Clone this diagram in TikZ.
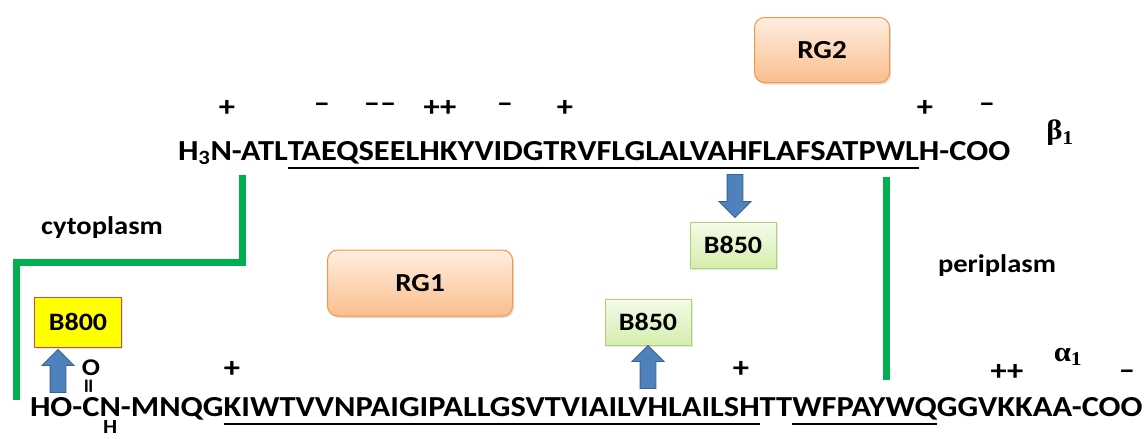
\documentclass[tikz,border=0pt]{standalone}
\usepackage{fontspec}
\setmainfont[FakeStretch=1.12]{Carlito}
\newfontfamily\greekfont[FakeStretch=1.1]{Liberation Serif}
\usetikzlibrary{positioning,shapes.arrows,shadows}

\definecolor{membrane}{RGB}{0,176,80}
\definecolor{arrowblue}{RGB}{79,129,189}
\definecolor{rgborder}{RGB}{247,150,70}
\definecolor{rgtop}{RGB}{255,238,226}
\definecolor{rgbottom}{RGB}{250,190,140}
\definecolor{bchltop}{RGB}{244,251,234}
\definecolor{bchlbottom}{RGB}{212,238,172}
\definecolor{bchlborder}{RGB}{176,208,120}
\definecolor{bchlred}{RGB}{192,80,77}

\tikzset{
  seq/.style={font=\fontsize{29}{32}\selectfont\bfseries, inner sep=0pt, outer sep=0pt,
    anchor=base west},
  sequl/.style={seq, text depth=8pt},
  charge/.style={font=\fontsize{29}{32}\selectfont\bfseries, inner sep=0pt},
  uline/.style={line width=1.4pt},
  membrane line/.style={draw=membrane, line width=7pt},
  region/.style={font=\fontsize{25.5}{28}\selectfont\bfseries},
  rgbox/.style={rounded corners=10pt, draw=rgborder, line width=1pt,
    top color=rgtop, bottom color=rgbottom,
    drop shadow={opacity=.25, shadow xshift=1.5pt, shadow yshift=-2pt},
    font=\fontsize{26}{28}\selectfont\bfseries},
  bchl/.style={draw=bchlborder, line width=1pt, top color=bchltop, bottom color=bchlbottom,
    drop shadow={opacity=.2, shadow xshift=1.5pt, shadow yshift=-2pt},
    font=\fontsize{25}{28}\selectfont\bfseries,
    minimum width=86pt, minimum height=46pt},
  blockarrow/.style={single arrow, fill=arrowblue, draw=arrowblue!75!black, line width=.8pt,
    inner sep=7.5pt, single arrow head extend=8pt, minimum height=43pt, minimum width=31pt},
  subunit/.style={font=\greekfont\fontsize{28}{30}\selectfont\bfseries},
}

\begin{document}
\begin{tikzpicture}[x=1pt, y=-1pt]
  \useasboundingbox (0,0) rectangle (1146,439);

  % beta chain
  \node[seq] (b0) at (178,160) {H\textsubscript{3}N-ATL};
  \node[sequl] (b1) at (b0.base east) {TAEQSEELHKYVIDGTRVFLGLALVAHFLAFSATPWL};
  \node[seq] (b2) at (b1.base east) {H-COO};
  \draw[uline] (b1.south west) -- (b1.south east);
  \node[subunit] (beta) at (1060,133) {β\textsubscript{1}};

  \foreach \x/\c in {227/+, 322/\textendash, 380/\textendash\textendash, 440/++,
                     505/\textendash, 565/+, 925/+, 987/\textendash}
    \node[charge] at (\x,108) {\c};

  % alpha chain
  \node[seq] (a0) at (30,416) {HO-};
  \node[seq] (a1) at (a0.base east) {C};
  \node[seq] (a2) at (a1.base east) {N};
  \node[seq] (a3) at (a2.base east) {-MNQG};
  \node[sequl] (a4) at (a3.base east) {KIWTVVNPAIGIPALLGSVTVIAILVHLAILSH};
  \node[seq] (a5) at (a4.base east) {TT};
  \node[sequl] (a6) at (a5.base east) {WFPAYWQ};
  \node[seq] (a7) at (a6.base east) {GGVKKAA-COO};
  \draw[uline] (a4.south west) -- (a4.south east);
  \draw[uline] (a6.south west) -- (a6.south east);
  \node[charge, font=\fontsize{24}{26}\selectfont\bfseries] (oxy) at (a1.north |- 0,368) {O};
  \node[charge, rotate=90, font=\fontsize{26}{28}\selectfont\bfseries] (dbl) at (a1.north |- 0,386) {=};
  \node[charge, anchor=base, font=\fontsize{20}{22}\selectfont\bfseries] (hyd) at (a2.north |- 0,433) {H};
  \node[subunit] (alpha) at (1068,357) {α\textsubscript{1}};

  \foreach \x/\y/\c in {232/369/+, 741/369/+, 1007/372/++, 1127/375/\textendash}
    \node[charge] at (\x,\y) {\c};

  % membrane borders
  \draw[membrane line] (242,175) |- (16,262) -- (16,400);
  \draw[membrane line] (886,177) -- (886,380);
  \node[region] (cyto) at (102,228) {cytoplasm};
  \node[region] (peri) at (997,266) {periplasm};

  % binding sites
  \node[rgbox, minimum width=135pt, minimum height=65pt] (rg2) at (822,50) {RG2};
  \node[rgbox, minimum width=185pt, minimum height=66pt] (rg1) at (420,283) {RG1};
  \node[bchl] (b850up) at (733,245) {B850};
  \node[bchl] (b850low) at (648,322) {B850};
  \node[bchl, draw=bchlred, fill=yellow, top color=yellow, bottom color=yellow,
    minimum width=87pt, minimum height=50pt] (b800) at (78,322) {B800};

  \node[blockarrow, rotate=-90] (toB850up) at (735,192) {};
  \node[blockarrow, rotate=90] (toB850low) at (648,371) {};
  \node[blockarrow, rotate=90] (toB800) at (58,375) {};
\end{tikzpicture}
\end{document}
